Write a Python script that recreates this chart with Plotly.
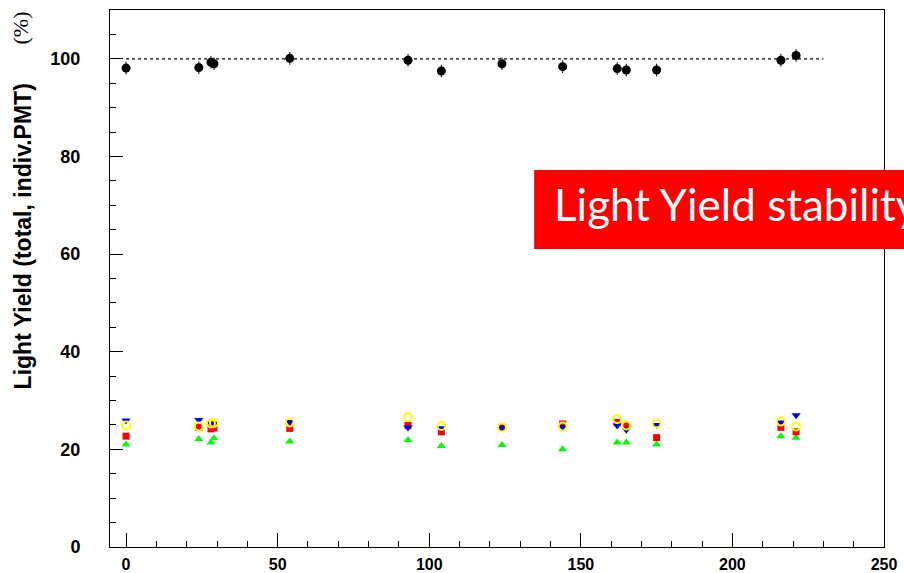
import plotly.graph_objects as go

# ---- data ----
days = [0, 24, 28, 29, 54, 93, 104, 124, 144, 162, 165, 175, 216, 221]
total = [98.1, 98.2, 99.3, 99.0, 100.1, 99.7, 97.5, 99.0, 98.4, 98.0, 97.7, 97.7, 99.7, 100.7]
total_err = [1.3] * len(days)
pmt_blue = [25.9, 26.0, 25.3, 25.3, 25.6, 24.5, 24.3, 24.5, 24.6, 24.9, 24.0, 25.0, 25.5, 27.0]
pmt_yellow = [24.9, 24.7, 25.3, 25.4, 25.5, 26.6, 24.8, 24.5, 24.7, 26.2, 24.9, 25.3, 25.7, 24.7]
pmt_red = [22.7, 24.5, 24.2, 24.4, 24.3, 24.9, 23.6, 24.5, 25.2, 25.5, 24.9, 22.4, 24.5, 23.6]
pmt_green = [21.0, 22.1, 21.4, 22.3, 21.6, 21.9, 20.7, 20.9, 20.0, 21.4, 21.4, 21.0, 22.7, 22.4]
ref_x = [0, 230]
ref_y = [100, 100]

fig = go.Figure()

fig.add_trace(go.Scatter(x=ref_x, y=ref_y, mode="lines",
                         line=dict(color="black", width=1.3, dash="dot"),
                         hoverinfo="skip", showlegend=False))

fig.add_trace(go.Scatter(x=days, y=pmt_green, mode="markers",
                         marker=dict(symbol="triangle-up", size=8, color="#00ff00"),
                         showlegend=False))
fig.add_trace(go.Scatter(x=days, y=pmt_red, mode="markers",
                         marker=dict(symbol="square", size=7, color="#ff0000"),
                         showlegend=False))
fig.add_trace(go.Scatter(x=days, y=pmt_blue, mode="markers",
                         marker=dict(symbol="triangle-down", size=8, color="#0000ff"),
                         showlegend=False))
fig.add_trace(go.Scatter(x=days, y=pmt_yellow, mode="markers",
                         marker=dict(symbol="circle-open", size=8, color="#ffff00",
                                     line=dict(width=2, color="#ffff00")),
                         showlegend=False))

fig.add_trace(go.Scatter(x=days, y=total, mode="markers",
                         marker=dict(symbol="circle", size=9, color="black"),
                         error_y=dict(type="data", array=total_err, width=0,
                                      thickness=1, color="black"),
                         showlegend=False))

ytickfont = dict(family="Liberation Sans", size=18, color="black", weight="bold")
xtickfont = dict(family="Liberation Sans", size=16, color="black", weight="bold")

fig.update_layout(
    width=904, height=573,
    margin=dict(l=110, r=20, t=10, b=26),
    paper_bgcolor="white", plot_bgcolor="white",
    xaxis=dict(range=[-5.3, 250], showgrid=False, zeroline=False, automargin=False,
               showline=True, linecolor="black", linewidth=1, mirror=True,
               ticks="inside", ticklen=14, tickcolor="black",
               tick0=0, dtick=50, tickfont=xtickfont, ticklabelstandoff=3,
               minor=dict(ticks="inside", ticklen=6, dtick=10, tickcolor="black")),
    yaxis=dict(range=[0, 110], showgrid=False, zeroline=False, automargin=False,
               showline=True, linecolor="black", linewidth=1, mirror=True,
               ticks="inside", ticklen=13, tickcolor="black",
               tick0=0, dtick=20, tickfont=ytickfont,
               ticklabelstandoff=25,
               minor=dict(ticks="inside", ticklen=6, dtick=5, tickcolor="black")),
)

# axis title (rotated)
fig.add_annotation(xref="paper", yref="paper", x=-0.112, y=0.579,
                   text="<b>Light Yield (total, indiv.PMT)</b>", textangle=-90,
                   showarrow=False, xanchor="center", yanchor="middle",
                   font=dict(family="Liberation Sans", size=23, color="black"))
fig.add_annotation(xref="paper", yref="paper", x=-0.116, y=0.966,
                   text="(%)", textangle=-90,
                   showarrow=False, xanchor="center", yanchor="middle",
                   font=dict(family="Liberation Serif", size=22, color="black"))

# red label box
fig.add_shape(type="rect", xref="paper", yref="paper",
              x0=0.548, x1=1.1, y0=0.555, y1=0.702,
              fillcolor="#ff0000", line=dict(width=0), layer="above")
fig.add_annotation(xref="paper", yref="paper", x=0.571, y=0.638,
                   text="Light Yield stability", showarrow=False,
                   xanchor="left", yanchor="middle",
                   font=dict(family="Lato", size=44, color="white"))

fig.write_html("out.html", config={"displayModeBar": False},
               post_script="document.body.style.margin='0';"
                           "document.body.style.overflow='hidden';")
